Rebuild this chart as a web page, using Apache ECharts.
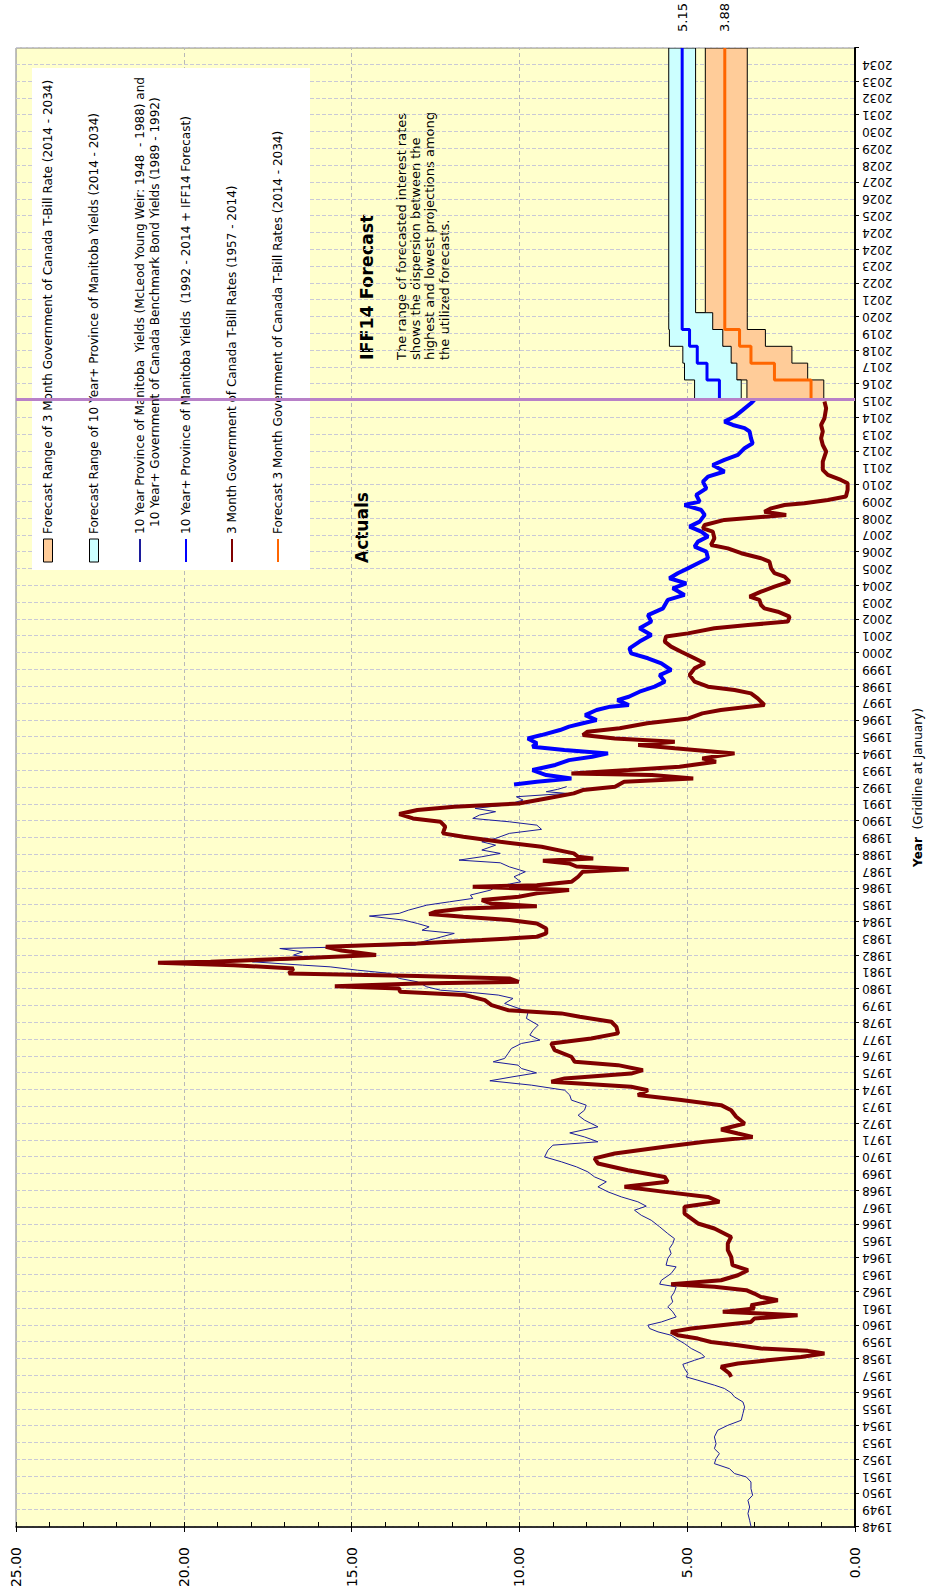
<!DOCTYPE html>
<html>
<head>
<meta charset="utf-8">
<script src="https://cdn.jsdelivr.net/npm/echarts@6.0.0/dist/echarts.min.js"></script>
<style>
html, body { margin: 0; padding: 0; width: 935px; height: 1591px; overflow: hidden; background: #fff; }
/* chart is laid out landscape, then turned a quarter turn to the left */
#chart { position: absolute; left: 0; top: 0; width: 1591px; height: 935px;
  transform-origin: 0 0; transform: translate(0, 1591px) rotate(-90deg); }
</style>
</head>
<body>
<div id="chart"></div>
<script>
// tick labels of the year axis (one gridline per label, 2024 shows twice)
var yearLabels = ['1948','1949','1950','1951','1952','1953','1954','1955','1956','1957',
  '1958','1959','1960','1961','1962','1963','1964','1965','1966','1967','1968','1969',
  '1970','1971','1972','1973','1974','1975','1976','1977','1978','1979','1980','1981',
  '1982','1983','1984','1985','1986','1987','1988','1989','1990','1991','1992','1993',
  '1994','1995','1996','1997','1998','1999','2000','2001','2002','2003','2004','2005',
  '2006','2007','2008','2009','2010','2011','2012','2013','2014','2015','2016','2017',
  '2018','2019','2020','2021','2022','2023','2024','2024','2025','2026','2027','2028',
  '2029','2030','2031','2032','2033','2034'];

// 10 yr Manitoba (McLeod Young Weir) / GoC benchmark, 1948 - 1992  [year, %]
var yieldHist = [[1948.04,3.10],[1948.40,3.14],[1948.80,3.19],[1949.19,3.14],[1949.59,3.19],[1949.89,3.05],
  [1950.28,3.10],[1950.68,3.10],[1950.98,3.24],[1951.18,3.59],[1951.47,3.74],[1951.77,4.19],[1952.07,4.14],
  [1952.37,4.04],[1952.66,4.19],[1952.96,4.14],[1953.36,4.19],[1953.76,4.09],[1954.05,3.79],[1954.35,3.39],
  [1954.75,3.34],[1955.15,3.29],[1955.44,3.34],[1955.74,3.59],[1955.98,3.69],[1956.24,3.89],[1956.44,4.19],
  [1956.73,4.68],[1956.93,5.03],[1957.13,4.98],[1957.43,5.08],[1957.68,5.13],[1957.92,4.78],[1958.12,4.48],
  [1958.32,4.58],[1958.62,4.88],[1958.91,5.08],[1959.21,5.33],[1959.41,5.48],[1959.61,5.87],[1959.81,6.12],
  [1960.01,6.17],[1960.20,5.77],[1960.50,5.33],[1960.80,5.43],[1961.10,5.58],[1961.39,5.43],[1961.69,5.48],
  [1961.99,5.38],[1962.29,5.33],[1962.45,5.82],[1962.68,5.77],[1963.08,5.48],[1963.48,5.33],[1963.58,5.63],
  [1963.97,5.58],[1964.27,5.48],[1964.57,5.53],[1964.87,5.43],[1965.16,5.38],[1965.46,5.58],[1965.86,5.82],
  [1966.25,6.07],[1966.55,6.37],[1966.85,6.57],[1967.09,6.22],[1967.35,6.47],[1967.64,6.96],[1967.94,7.36],
  [1968.24,7.66],[1968.54,7.41],[1968.83,7.76],[1969.13,7.96],[1969.43,8.30],[1969.73,8.75],[1970.02,9.25],
  [1970.42,9.15],[1970.72,9.00],[1970.92,7.66],[1971.21,8.06],[1971.45,8.50],[1971.81,7.66],[1972.21,8.06],
  [1972.50,8.25],[1972.80,8.06],[1973.10,8.01],[1973.40,8.45],[1973.70,8.50],[1973.99,8.65],[1974.29,9.64],
  [1974.55,10.88],[1974.79,10.19],[1975.02,9.49],[1975.28,9.94],[1975.48,10.04],[1975.68,10.78],[1975.88,10.44],
  [1976.17,10.34],[1976.47,10.24],[1976.77,9.94],[1976.97,9.39],[1977.27,9.69],[1977.56,9.59],[1977.86,9.44],
  [1978.26,9.79],[1978.66,9.74],[1979.15,10.44],[1979.45,10.19],[1979.65,10.63],[1979.80,11.40],[1979.94,12.35],
  [1980.14,12.76],[1980.44,13.04],[1980.64,13.58],[1980.94,13.86],[1981.13,14.82],[1981.33,15.64],[1981.43,16.46],
  [1981.63,17.96],[1981.83,16.18],[1982.03,16.73],[1982.22,16.46],[1982.42,17.14],[1982.62,13.10],[1982.82,12.90],
  [1983.02,12.49],[1983.32,11.94],[1983.51,12.90],[1983.71,12.69],[1983.91,13.04],[1984.11,13.45],[1984.35,14.47],
  [1984.51,13.58],[1984.70,13.31],[1985.00,12.76],[1985.20,12.08],[1985.40,11.39],[1985.60,11.46],[1985.90,10.85],
  [1986.09,10.71],[1986.39,9.96],[1986.69,10.16],[1986.99,9.82],[1987.28,10.30],[1987.52,10.57],[1987.68,11.80],
  [1987.88,11.12],[1988.08,10.57],[1988.28,11.12],[1988.57,10.71],[1988.77,11.12],[1988.97,10.71],[1989.27,10.30],
  [1989.51,9.34],[1989.76,9.48],[1989.96,10.30],[1990.16,11.39],[1990.36,11.19],[1990.56,10.71],[1990.76,11.32],
  [1990.95,10.43],[1991.25,9.89],[1991.45,10.09],[1991.65,8.59],[1991.75,9.20],[1991.89,8.86],[1992.05,8.59]];

// 10 yr+ Manitoba yields 1992 - 2015
var yieldMb = [[1992.18,10.16],[1992.34,9.48],[1992.54,8.45],[1992.74,9.20],[1993.04,9.61],[1993.34,8.93],
  [1993.63,8.52],[1993.83,7.83],[1994.03,7.36],[1994.23,8.66],[1994.43,9.61],[1994.63,9.48],[1994.92,9.75],
  [1995.12,9.34],[1995.42,8.79],[1995.62,8.52],[1995.82,8.11],[1996.01,7.70],[1996.31,8.04],[1996.61,7.70],
  [1996.81,7.29],[1996.91,6.74],[1997.20,7.08],[1997.40,6.74],[1997.70,6.42],[1998.00,5.97],[1998.30,5.67],
  [1998.69,5.82],[1998.99,5.48],[1999.39,5.77],[1999.69,6.17],[1999.98,6.67],[2000.28,6.72],[2000.68,6.42],
  [2001.07,6.07],[2001.47,6.42],[2001.87,6.07],[2002.26,6.17],[2002.66,5.72],[2003.16,5.58],[2003.46,5.08],
  [2003.85,5.43],[2004.15,5.03],[2004.45,5.53],[2004.75,5.28],[2005.04,4.98],[2005.34,4.68],[2005.64,4.38],
  [2006.03,4.43],[2006.33,4.78],[2006.63,4.68],[2006.93,4.38],[2007.23,4.58],[2007.52,4.93],[2007.82,4.63],
  [2008.22,4.48],[2008.51,4.58],[2008.81,5.08],[2009.01,4.63],[2009.41,4.73],[2009.80,4.43],[2010.20,4.53],
  [2010.50,4.38],[2010.80,3.89],[2011.19,4.24],[2011.49,3.89],[2011.79,3.49],[2012.19,3.29],[2012.48,3.05],
  [2012.78,3.10],[2013.18,3.14],[2013.38,3.29],[2013.57,3.64],[2013.77,3.89],[2014.07,3.59],[2014.47,3.34],
  [2014.86,3.10],[2015.06,3.00]];

// 3 month GoC T-bill 1957 - 2015
var tbillHist = [[1956.93,3.69],[1957.13,3.74],[1957.53,3.99],[1957.73,3.49],[1957.92,2.60],[1958.12,1.61],
  [1958.32,0.91],[1958.48,1.41],[1958.62,2.80],[1958.82,3.49],[1959.01,4.29],[1959.21,4.68],[1959.41,5.28],
  [1959.61,5.48],[1959.81,4.88],[1960.01,3.99],[1960.20,3.10],[1960.40,3.00],[1960.60,1.71],[1960.70,2.80],
  [1960.80,3.94],[1961.00,3.00],[1961.20,3.10],[1961.49,2.30],[1961.69,2.80],[1961.89,3.00],[1962.09,3.24],
  [1962.29,4.19],[1962.45,5.48],[1962.68,3.99],[1962.98,3.49],[1963.28,3.19],[1963.58,3.65],[1964.07,3.69],
  [1964.47,3.79],[1964.87,3.79],[1965.26,3.69],[1965.76,4.19],[1966.06,4.68],[1966.65,5.08],[1967.05,5.08],
  [1967.35,4.04],[1967.64,4.38],[1967.94,5.67],[1968.24,6.87],[1968.54,5.58],[1968.83,5.67],[1969.23,6.77],
  [1969.63,7.66],[1969.93,7.76],[1970.22,7.16],[1970.62,5.67],[1970.92,4.48],[1971.21,3.05],[1971.41,3.49],
  [1971.65,3.99],[1972.01,3.29],[1972.41,3.54],[1972.80,3.69],[1973.10,3.99],[1973.40,5.18],[1973.70,6.47],
  [1973.99,6.17],[1974.19,6.67],[1974.49,9.05],[1974.69,8.65],[1974.98,6.67],[1975.18,6.32],[1975.48,7.06],
  [1975.68,8.35],[1975.98,8.45],[1976.37,8.95],[1976.77,9.05],[1977.07,7.86],[1977.37,7.06],[1977.76,7.11],
  [1978.06,7.26],[1978.36,8.20],[1978.56,8.75],[1978.75,10.34],[1979.05,10.83],[1979.35,11.03],[1979.65,11.63],
  [1979.85,13.56],[1980.04,13.58],[1980.18,15.50],[1980.34,13.04],[1980.44,10.02],[1980.64,10.30],[1980.78,13.04],
  [1980.94,16.87],[1981.23,16.73],[1981.43,18.51],[1981.57,20.77],[1981.63,19.20],[1981.83,16.73],[1982.03,14.27],
  [1982.30,15.30],[1982.52,15.77],[1982.72,13.04],[1982.92,11.12],[1983.12,9.48],[1983.32,9.20],[1983.61,9.20],
  [1983.91,9.48],[1984.11,10.30],[1984.31,11.67],[1984.47,12.69],[1984.61,12.49],[1984.80,11.67],[1984.94,9.48],
  [1985.10,10.85],[1985.30,11.12],[1985.50,10.02],[1985.70,9.48],[1985.90,8.52],[1986.09,11.39],[1986.19,9.48],
  [1986.39,8.45],[1986.69,8.25],[1986.99,8.11],[1987.13,6.74],[1987.30,8.30],[1987.48,8.52],[1987.64,9.30],
  [1987.78,7.80],[1987.88,8.25],[1988.08,8.38],[1988.47,9.34],[1988.77,10.57],[1989.07,11.67],[1989.27,12.28],
  [1989.67,12.21],[1989.96,12.35],[1990.16,13.17],[1990.42,13.58],[1990.66,13.04],[1990.86,11.94],[1991.05,10.02],
  [1991.35,9.20],[1991.65,8.38],[1991.85,8.11],[1992.05,7.15],[1992.34,6.88],[1992.54,4.82],[1992.74,6.05],
  [1992.84,8.45],[1993.04,6.74],[1993.24,5.23],[1993.53,4.14],[1993.73,4.55],[1994.03,3.59],[1994.33,5.37],
  [1994.53,6.46],[1994.72,5.37],[1994.92,7.15],[1995.12,8.11],[1995.32,7.97],[1995.52,7.01],[1995.82,6.19],
  [1996.11,4.96],[1996.41,4.55],[1996.61,4.00],[1996.91,2.70],[1997.30,2.90],[1997.60,3.10],[1997.80,3.59],
  [1998.00,4.38],[1998.30,4.78],[1998.69,4.93],[1999.09,4.78],[1999.39,4.48],[1999.69,4.78],[2000.08,5.18],
  [2000.38,5.48],[2000.68,5.67],[2000.98,5.63],[2001.17,4.98],[2001.47,4.19],[2001.67,3.19],[2001.87,2.00],
  [2002.17,1.95],[2002.46,2.30],[2002.66,2.70],[2002.86,2.80],[2003.16,2.85],[2003.36,3.14],[2003.65,2.80],
  [2003.95,2.40],[2004.25,1.95],[2004.55,2.10],[2004.75,2.40],[2005.04,2.50],[2005.44,2.55],[2005.64,2.80],
  [2005.94,3.39],[2006.23,3.79],[2006.43,4.29],[2006.83,4.19],[2007.23,4.24],[2007.42,4.53],[2007.62,4.48],
  [2007.92,3.89],[2008.22,2.05],[2008.41,2.70],[2008.61,2.50],[2008.81,2.10],[2008.91,1.51],[2009.11,0.81],
  [2009.31,0.27],[2009.71,0.22],[2010.10,0.22],[2010.30,0.42],[2010.60,0.81],[2010.90,0.96],[2011.39,0.96],
  [2011.99,0.86],[2012.38,0.96],[2012.78,1.01],[2013.18,0.96],[2013.57,1.01],[2013.97,0.91],[2014.57,0.86],
  [2014.96,0.91]];

// IFF14 forecast, annual steps (fiscal years); first point joins the actuals
var fcLineYears = [2015.08, 2015.08, 2016.25, 2017.25, 2018.25, 2019.25, 2020.25, 2035];
var fcYield     = [3.00, 4.04, 4.41, 4.70, 4.93, 5.15, 5.15, 5.15];
var fcTbill     = [0.91, 1.31, 2.40, 3.10, 3.44, 3.88, 3.88, 3.88];

var fcRangeYears = [2015.08, 2016.25, 2017.25, 2018.25, 2019.25, 2020.25, 2035];
var tbRangeLow   = [0.93, 1.41, 1.88, 2.67, 3.21, 3.21, 3.21];
var tbRangeHigh  = [3.22, 3.64, 3.91, 4.21, 4.73, 4.46, 4.46];
var ylRangeLow   = [3.39, 3.52, 3.69, 3.94, 4.24, 4.75, 4.75];
var ylRangeHigh  = [4.78, 5.08, 5.13, 5.53, 5.55, 5.55, 5.55];

var forecastStart = 2015.06;

// year -> slot on the axis (the repeated 2024 label adds one slot)
function toPos(y) { return y <= 2024.5 ? y - 1948 : y - 1947; }
function pts(arr) { return arr.map(function (p) { return [toPos(p[0]), p[1]]; }); }
function zip(xs, ys) { return xs.map(function (x, i) { return [toPos(x), ys[i]]; }); }

var N_RTB = 'Forecast Range of 3 Month Government of Canada T-Bill Rate (2014 - 2034)';
var N_RYL = 'Forecast Range of 10 Year+ Province of Manitoba Yields (2014 - 2034)';
var N_HIST = '10 Year Province of Manitoba  Yields (McLeod Young Weir: 1948  - 1988) and';
var N_HIST2 = '10 Year+ Government of Canada Benchmark Bond Yields (1989 - 1992)';
var N_MB = '10 Year+ Province of Manitoba Yields  (1992 - 2014 + IFF14 Forecast)';
var N_TB = '3 Month Government of Canada T-Bill Rates (1957 - 2014)';
var N_FTB = 'Forecast 3 Month Government of Canada T-Bill Rates (2014 - 2034)';

var FONT = 'DejaVu Sans';

// step band between lows and highs, drawn as one outlined polygon
function band(name, fill, lows, highs) {
  return {
    name: name, type: 'custom', color: fill, data: [0], z: 2, clip: true,
    renderItem: function (params, api) {
      var up = [], down = [];
      for (var i = 0; i < fcRangeYears.length - 1; i++) {
        var x0 = toPos(fcRangeYears[i]), x1 = toPos(fcRangeYears[i + 1]);
        up.push(api.coord([x0, highs[i]]), api.coord([x1, highs[i]]));
        down.push(api.coord([x0, lows[i]]), api.coord([x1, lows[i]]));
      }
      return { type: 'polygon', shape: { points: up.concat(down.reverse()) },
        style: { fill: fill, stroke: '#000', lineWidth: 1 } };
    }
  };
}

var chart = echarts.init(document.getElementById('chart'), null, { renderer: 'svg' });

var noDot = { opacity: 0 };

var option = {
  animation: false,
  textStyle: { fontFamily: FONT },
  grid: { left: 64, right: 48, top: 16, bottom: 80, show: true,
    backgroundColor: '#FFFFCC', borderColor: '#808080', borderWidth: 1 },
  xAxis: [{
    type: 'value', min: 0, max: 88, interval: 1, position: 'bottom',
    name: '{b|Year}  (Gridline at January)', nameLocation: 'middle', nameGap: 57,
    nameTextStyle: { fontSize: 12, color: '#000', rich: { b: { fontWeight: 'bold', fontSize: 12 } } },
    axisLine: { lineStyle: { color: '#000', width: 2 } },
    axisTick: { show: false },
    axisLabel: { rotate: 90, fontSize: 12, color: '#000', margin: 7,
      formatter: function (v) { return yearLabels[Math.round(v)] || ''; } },
    splitLine: { show: true, lineStyle: { color: '#C9C9D6', type: [4, 2], width: 1 } }
  }, {
    type: 'value', min: 0, max: 88, interval: 2, position: 'bottom',
    axisLine: { show: false }, axisLabel: { show: false }, splitLine: { show: false },
    axisTick: { show: true, length: 4, lineStyle: { color: '#000' } }
  }],
  yAxis: [{
    type: 'value', min: 0, max: 25, interval: 5, position: 'left',
    axisLine: { show: true, lineStyle: { color: '#000', width: 1.5 } },
    axisTick: { show: true, length: 5, lineStyle: { color: '#000' } },
    axisLabel: { fontSize: 14, color: '#000', margin: 20,
      formatter: function (v) { return v.toFixed(2); } },
    splitLine: { show: true, lineStyle: { color: '#B8B8B8', type: [4, 3], width: 1 } }
  }, {
    type: 'value', min: 0, max: 25, interval: 1, position: 'left',
    axisLine: { show: false }, axisLabel: { show: false }, splitLine: { show: false },
    axisTick: { show: true, inside: true, length: 5, lineStyle: { color: '#000' } }
  }],
  legend: {
    orient: 'vertical', left: 1021, top: 32, backgroundColor: '#fff',
    padding: [9, 6, 25, 7], itemGap: 32, itemWidth: 23, itemHeight: 9,
    textStyle: { fontFamily: FONT, fontSize: 12, color: '#000', width: 460, lineHeight: 14 },
    data: [
      { name: N_RTB, icon: 'rect', itemStyle: { color: '#FFCC99', borderColor: '#000', borderWidth: 1 } },
      { name: N_RYL, icon: 'rect', itemStyle: { color: '#CCFFFF', borderColor: '#000', borderWidth: 1 } },
      { name: N_HIST, itemStyle: noDot }, { name: N_MB, itemStyle: noDot },
      { name: N_TB, itemStyle: noDot }, { name: N_FTB, itemStyle: noDot }
    ]
  },
  graphic: [
    { type: 'text', left: 1064, top: 149, z: 100, style: { text: N_HIST2, font: '12px "DejaVu Sans"', fill: '#000' } },
    { type: 'text', left: 1028, top: 353, style: { text: 'Actuals', font: 'bold 17px "DejaVu Sans"', fill: '#000' } },
    { type: 'text', left: 1231, top: 358, style: { text: 'IFF14 Forecast', font: 'bold 17.5px "DejaVu Sans"', fill: '#000' } },
    { type: 'text', left: 1231, top: 394, style: {
      text: 'The range of forecasted interest rates\nshows the dispersion between the\nhighest and lowest projections among\nthe utilized forecasts.',
      font: '13px "DejaVu Sans"', lineHeight: 14.3, fill: '#000' } }
  ],
  series: [
    band(N_RTB, '#FFCC99', tbRangeLow, tbRangeHigh),
    band(N_RYL, '#CCFFFF', ylRangeLow, ylRangeHigh),
    { name: N_HIST, type: 'line', symbol: 'none', color: '#1C1C9C', data: pts(yieldHist),
      lineStyle: { color: '#1C1C9C', width: 1 } },
    { name: N_MB, type: 'line', symbol: 'none', color: '#0000FF', data: pts(yieldMb),
      lineStyle: { color: '#0000FF', width: 4 } },
    { name: N_MB, type: 'line', symbol: 'none', color: '#0000FF', step: 'end',
      data: zip(fcLineYears, fcYield), lineStyle: { color: '#0000FF', width: 3 },
      endLabel: { show: true, distance: 16, fontSize: 13, color: '#000', fontFamily: FONT,
        formatter: function (p) { return p.value[1].toFixed(2); } } },
    { name: N_TB, type: 'line', symbol: 'none', color: '#800000', data: pts(tbillHist),
      lineStyle: { color: '#800000', width: 4 } },
    { name: N_FTB, type: 'line', symbol: 'none', color: '#FF6600', step: 'end',
      data: zip(fcLineYears, fcTbill), lineStyle: { color: '#FF6600', width: 3 },
      endLabel: { show: true, distance: 16, fontSize: 13, color: '#000', fontFamily: FONT,
        formatter: function (p) { return p.value[1].toFixed(2); } },
      markLine: { symbol: 'none', silent: true, label: { show: false },
        lineStyle: { color: '#B880C8', width: 3, type: 'solid' },
        data: [{ xAxis: toPos(forecastStart) }] } }
  ]
};

chart.setOption(option);
</script>
</body>
</html>
